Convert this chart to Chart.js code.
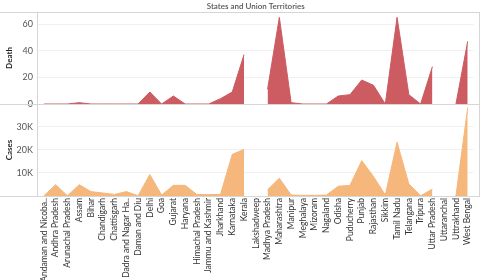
<!DOCTYPE html>
<html>
<head>
<meta charset="utf-8">
<script src="https://cdn.jsdelivr.net/npm/chart.js@4.4.1/dist/chart.umd.min.js"></script>
<style>
  html, body { margin: 0; padding: 0; background: #fff; }
  #wrap { position: relative; width: 480px; height: 280px; }
</style>
</head>
<body>
<div id="wrap"><canvas id="chart"></canvas></div>
<script>
// States / UTs in the order shown on the x axis
const states = [
  'Andaman and Nicoba..', 'Andhra Pradesh', 'Arunachal Pradesh', 'Assam', 'Bihar',
  'Chandigarh', 'Chattisgarh', 'Dadra and Nagar Ha..', 'Daman and Diu', 'Delhi',
  'Goa', 'Gujarat', 'Haryana', 'Himachal Pradesh', 'Jammu and Kashmir',
  'Jharkhand', 'Karnataka', 'Kerala', 'Lakshadweep', 'Madhya Pradesh',
  'Maharashtra', 'Manipur', 'Meghalaya', 'Mizoram', 'Nagaland',
  'Odisha', 'Puducherry', 'Punjab', 'Rajasthan', 'Sikkim',
  'Tamil Nadu', 'Telangana', 'Tripura', 'Uttar Pradesh', 'Uttaranchal',
  'Uttrakhand', 'West Bengal'
];

// null = no data (gap in the area)
const deaths = [
  0, 0, 0, 1, 0,
  0, 0, 0, 0, 9,
  0, 6, 0, 0, 0,
  4, 9, 37, null, 11,
  65, 1, 0, 0, 0,
  6, 7, 18, 14, 0,
  65, 7, 0, 28, null,
  0, 47
];

const cases = [
  100, 4900, 100, 4900, 1900,
  1300, 700, 1900, 100, 9300,
  400, 4600, 4600, 600, 600,
  700, 18000, 20200, null, 2700,
  7700, 400, 300, 300, 400,
  4200, 4600, 15300, 8400, 400,
  23300, 5200, 100, 3000, null,
  0, 38300
];

const deathTicks = [0, 20, 40, 60];
const caseTicks = [10000, 20000, 30000];

Chart.defaults.font.family = '"Lato", "Open Sans", sans-serif';

// full-width pane borders like the original dashboard
const paneLines = {
  id: 'paneLines',
  afterDraw(chart) {
    const { ctx, chartArea, width } = chart;
    const split = chart.scales.yDeath.bottom;
    ctx.save();
    ctx.strokeStyle = '#d6d6d6';
    ctx.lineWidth = 1;
    ctx.beginPath();
    [chartArea.top, split, chartArea.bottom].forEach(y => {
      const py = Math.round(y) + 0.5;
      ctx.moveTo(0, py);
      ctx.lineTo(width, py);
    });
    const lx = Math.round(chartArea.left) - 0.5;
    ctx.moveTo(lx, chartArea.top);
    ctx.lineTo(lx, chartArea.bottom);
    ctx.moveTo(width - 0.5, chartArea.top);
    ctx.lineTo(width - 0.5, chartArea.bottom);
    ctx.stroke();
    ctx.restore();
  }
};

new Chart(document.getElementById('chart'), {
  type: 'line',
  data: {
    labels: states,
    datasets: [
      {
        label: 'Cases',
        data: cases,
        yAxisID: 'yCases',
        fill: 'origin',
        backgroundColor: '#f5b77b',
        borderColor: '#f5b77b',
        borderWidth: 1,
        pointRadius: 0,
        tension: 0,
        spanGaps: false
      },
      {
        label: 'Death',
        data: deaths,
        yAxisID: 'yDeath',
        fill: 'origin',
        backgroundColor: '#cc5c62',
        borderColor: '#cc5c62',
        borderWidth: 1,
        pointRadius: 0,
        tension: 0,
        spanGaps: false
      }
    ]
  },
  options: {
    responsive: true,
    maintainAspectRatio: false,
    animation: false,
    layout: { padding: { right: 1 } },
    plugins: {
      legend: { display: false },
      tooltip: { enabled: false },
      title: {
        display: true,
        text: 'States and Union Territories',
        fullSize: false,
        color: '#555',
        font: { size: 8, weight: '600' },
        padding: { top: 1.2, bottom: 1.2 }
      }
    },
    scales: {
      x: {
        offset: true,
        grid: { display: false, drawTicks: false },
        border: { display: false },
        ticks: {
          autoSkip: false,
          minRotation: 90,
          maxRotation: 90,
          padding: 2,
          color: '#333',
          font: { size: 8.5 }
        },
        afterFit: axis => { axis.height = 84; }
      },
      yCases: {
        stack: 'panes',
        stackWeight: 1,
        position: 'left',
        min: 0,
        max: 39800,
        grid: { color: '#f0f0f0', drawTicks: false },
        border: { display: false },
        ticks: {
          padding: 5,
          color: '#555',
          font: { size: 9 },
          callback: v => (v / 1000) + 'K'
        },
        afterBuildTicks: axis => {
          axis.ticks = caseTicks.map(v => ({ value: v }));
        },
        title: {
          display: true,
          text: 'Cases',
          color: '#222',
          font: { size: 8, weight: 'bold' },
          padding: { top: 5, bottom: 0 }
        },
        afterFit: axis => { axis.width = 38; }
      },
      yDeath: {
        stack: 'panes',
        stackWeight: 1,
        position: 'left',
        min: 0,
        max: 69,
        grid: { color: '#f0f0f0', drawTicks: false },
        border: { display: false },
        ticks: {
          padding: 5,
          color: '#555',
          font: { size: 9 }
        },
        afterBuildTicks: axis => {
          axis.ticks = deathTicks.map(v => ({ value: v }));
        },
        title: {
          display: true,
          text: 'Death',
          color: '#222',
          font: { size: 8, weight: 'bold' },
          padding: { top: 5, bottom: 0 }
        },
        afterFit: axis => { axis.width = 38; }
      }
    }
  },
  plugins: [paneLines]
});
</script>
</body>
</html>
